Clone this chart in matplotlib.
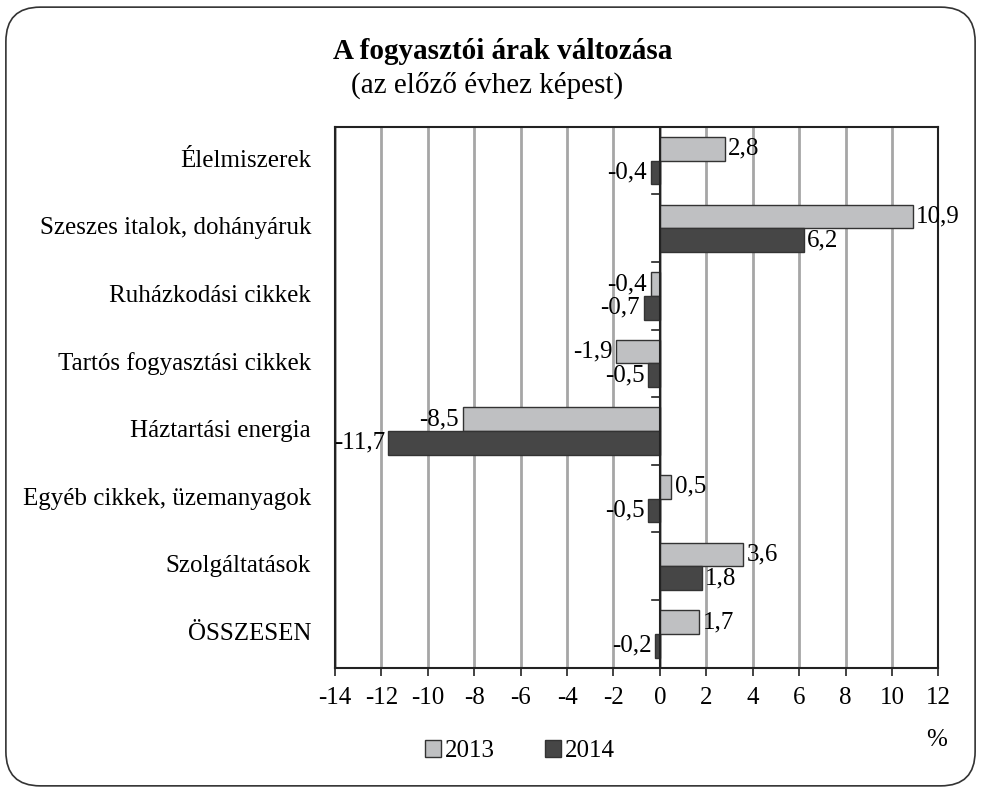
import matplotlib.pyplot as plt
from matplotlib.patches import FancyBboxPatch
import numpy as np

plt.rcParams['font.family'] = ['Liberation Serif', 'DejaVu Serif']

categories = ['Élelmiszerek', 'Szeszes italok, dohányáruk', 'Ruházkodási cikkek',
              'Tartós fogyasztási cikkek', 'Háztartási energia',
              'Egyéb cikkek, üzemanyagok', 'Szolgáltatások', 'ÖSSZESEN']
values_2013 = [2.8, 10.9, -0.4, -1.9, -8.5, 0.5, 3.6, 1.7]
values_2014 = [-0.4, 6.2, -0.7, -0.5, -11.7, -0.5, 1.8, -0.2]
series_labels = ['2013', '2014']
xticks = list(range(-14, 13, 2))

c2013 = '#bfc0c2'
c2014 = '#464646'
edge = '#333333'
fs = 18

fig = plt.figure(figsize=(9.81, 7.93), dpi=100)
ax = fig.add_axes([0.3415, 0.158, 0.615, 0.682])

# rounded frame around the whole figure
frame = FancyBboxPatch((0.006, 0.009), 0.988, 0.982,
                       boxstyle='round,pad=0,rounding_size=0.035',
                       transform=fig.transFigure, fill=False,
                       edgecolor='#333333', linewidth=1.2, mutation_aspect=981 / 793)
fig.patches.append(frame)

y = np.arange(len(categories))
h = 0.35
ax.barh(y - h / 2, values_2013, height=h, color=c2013, edgecolor=edge, linewidth=1, label=series_labels[0], zorder=3)
ax.barh(y + h / 2, values_2014, height=h, color=c2014, edgecolor=edge, linewidth=1, label=series_labels[1], zorder=3)

def fmt(v):
    return f'{v:.1f}'.replace('.', ',')

for i in range(len(categories)):
    for v, yy in ((values_2013[i], y[i] - h / 2), (values_2014[i], y[i] + h / 2)):
        if v >= 0:
            ax.text(v + 0.15, yy, fmt(v), ha='left', va='center', fontsize=fs, zorder=4)
        else:
            ax.text(v - 0.15, yy, fmt(v), ha='right', va='center', fontsize=fs, zorder=4)

ax.set_xlim(-14, 12)
ax.set_ylim(len(categories) - 0.5, -0.5)
ax.set_xticks(xticks)
ax.set_xticklabels([str(t) for t in xticks], fontsize=fs)
ax.tick_params(axis='x', length=6, width=1.2, color='#222222', pad=8)
ax.grid(axis='x', color='#a6a6a6', linewidth=2, zorder=0)
ax.set_axisbelow(True)

# category labels on the left, ticks on the zero line
ax.set_yticks([])
for i, c in enumerate(categories):
    ax.text(-0.04, i, c, transform=ax.get_yaxis_transform(), ha='right', va='center', fontsize=fs)
ax.axvline(0, color='#222222', linewidth=1.5, zorder=5)
for b in np.arange(0.5, len(categories) - 0.5, 1):
    ax.plot([-0.35, 0], [b, b], color='#222222', linewidth=1.2, zorder=5, clip_on=False)

for s in ax.spines.values():
    s.set_color('#222222')
    s.set_linewidth(1.5)

fig.text(0.512, 0.935, 'A fogyasztói árak változása', ha='center', va='center', fontsize=21, fontweight='bold')
fig.text(0.496, 0.893, '(az előző évhez képest)', ha='center', va='center', fontsize=21)
fig.text(0.955, 0.067, '%', ha='center', va='center', fontsize=fs)

leg = ax.legend(loc='center', bbox_to_anchor=(0.53, 0.053), bbox_transform=fig.transFigure,
                ncol=2, frameon=False, fontsize=fs, handlelength=0.65, handleheight=0.65,
                handletextpad=0.15, columnspacing=2.0)

plt.savefig('out.png', dpi=100)
